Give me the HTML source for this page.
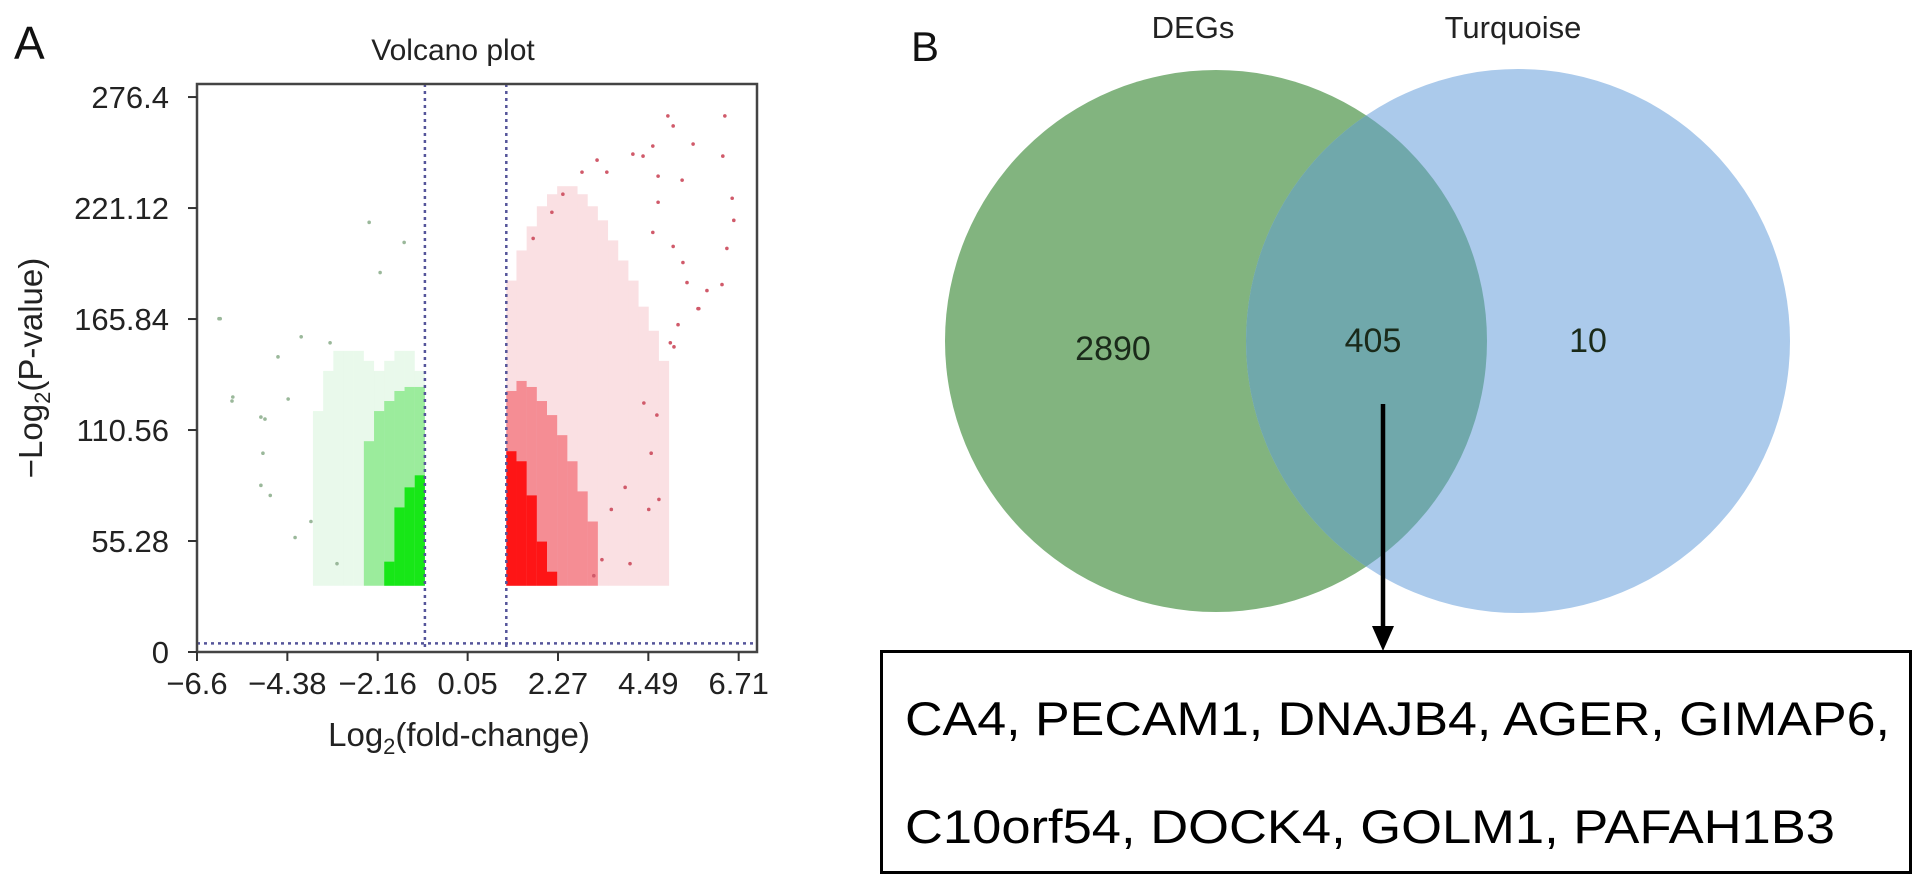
<!DOCTYPE html>
<html><head><meta charset="utf-8">
<style>
html,body{margin:0;padding:0;background:#fff;}
svg{display:block;font-family:"Liberation Sans",Arial,sans-serif;}
</style></head>
<body>
<svg id="root" width="1913" height="885" viewBox="0 0 1913 885">
  <rect x="0" y="0" width="1913" height="885" fill="#fff"/>
  <text x="14" y="59" font-size="46" fill="#111">A</text>
  <text x="453" y="60" font-size="30" fill="#222" text-anchor="middle">Volcano plot</text>
  <g id="volcano"></g>
  <text transform="translate(42,368) rotate(-90)" font-size="33" fill="#222" text-anchor="middle">−Log<tspan font-size="22" dy="8">2</tspan><tspan dy="-8">(P-value)</tspan></text>
  <text x="459" y="746" font-size="33" fill="#222" text-anchor="middle">Log<tspan font-size="22" dy="8">2</tspan><tspan dy="-8">(fold-change)</tspan></text>

  <text x="911" y="61" font-size="42" fill="#111">B</text>
  <g id="venn"></g>
</svg>
<script>
// ---------- Volcano data ----------
const xTickLabels = ["-6.6","-4.38","-2.16","0.05","2.27","4.49","6.71"];
const xTickValues = [-6.6,-4.38,-2.16,0.05,2.27,4.49,6.71];
const yTickLabels = ["0","55.28","110.56","165.84","221.12","276.4"];
const yTickValues = [0,55.28,110.56,165.84,221.12,276.4];
const fcThresholds = [-1, 1];
const pThreshold = 4.32;
const densityFloor = 33;
const binWidth = 0.25;
// green (down-regulated) density bins
const greenBinStart = [-3.75,-3.5,-3.25,-3.0,-2.75,-2.5,-2.25,-2.0,-1.75,-1.5,-1.25];
const greenHaloTop  = [120,140,150,150,150,145,140,145,150,150,140];
const greenMidTop   = [0,0,0,0,0,105,120,125,130,132,132];
const greenCoreTop  = [0,0,0,0,0,0,0,45,72,82,88];
// red (up-regulated) density bins
const redBinStart = [1.0,1.25,1.5,1.75,2.0,2.25,2.5,2.75,3.0,3.25,3.5,3.75,4.0,4.25,4.5,4.75];
const redHaloTop  = [185,200,212,222,228,232,232,228,222,215,205,195,185,172,160,145];
const redMidTop   = [130,135,132,125,118,108,95,80,65,0,0,0,0,0,0,0];
const redCoreTop  = [100,95,78,55,40,0,0,0,0,0,0,0,0,0,0,0];
// individual outlier points
const redPtX = [4.97,6.37,5.1,5.59,6.32,4.6,4.11,4.36,3.23,2.86,3.47,4.73,5.32,6.55,6.59,6.42,6.3,5.44,5.93,5.71,5.22,5.03,2.39,2.12,1.66,4.73,4.6,5.1,5.34,5.73,5.12,4.56,3.92,4.75,4.5,3.35,4.04,3.15,3.58,4.38,4.7];
const redPtY = [267,267,262,253,247,252,248,247,245,239,239,237,235,226,215,201,183,184,180,171,163,154,228,219,206,224,209,202,194,171,152,99,82,76,71,46,44,38,71,124,118];
const greenPtX = [-6.06,-5.74,-4.93,-4.98,-5.03,-4.19,-4.61,-4.8,-3.8,-4.36,-3.33,-3.16,-4.04,-6.03,-2.37,-1.51,-2.1,-5.72,-5.03];
const greenPtY = [166,125,116,99,83,57,147,78,65,126,154,44,157,166,214,204,189,127,117];

// ---------- Volcano scales ----------
const PL=197, PR=757, PT=84, PB=652;
const xMin=-6.6, xMax=7.16, yMin=0, yMax=282.9;
function X(v){return PL+(v-xMin)/(xMax-xMin)*(PR-PL);}
function Y(v){return PB-(v-yMin)/(yMax-yMin)*(PB-PT);}
const NS="http://www.w3.org/2000/svg";
const vg=document.getElementById('volcano');
function mk(tag,attrs,parent){const e=document.createElementNS(NS,tag);for(const k in attrs)e.setAttribute(k,attrs[k]);(parent||vg).appendChild(e);return e;}

function bands(starts,tops,fill,name){
  for(let i=0;i<starts.length;i++){
    if(!tops[i])continue;
    const r=mk('rect',{x:X(starts[i]),y:Y(tops[i]),width:X(starts[i]+binWidth)-X(starts[i]),height:Y(densityFloor)-Y(tops[i]),fill:fill});
    
    
  }
}
bands(greenBinStart,greenHaloTop,'rgba(120,215,130,0.16)','green-density-halo');
bands(greenBinStart,greenMidTop,'rgba(60,220,60,0.45)','green-density-mid');
bands(greenBinStart,greenCoreTop,'rgba(0,230,0,0.85)','green-density-core');
bands(redBinStart,redHaloTop,'rgba(225,70,90,0.17)','red-density-halo');
bands(redBinStart,redMidTop,'rgba(240,40,50,0.45)','red-density-mid');
bands(redBinStart,redCoreTop,'rgba(255,0,0,0.85)','red-density-core');

for(let i=0;i<redPtX.length;i++){
  const c=mk('circle',{cx:X(redPtX[i]),cy:Y(redPtY[i]),r:1.8,fill:'#d05a6a'});
  
  
}
for(let i=0;i<greenPtX.length;i++){
  const c=mk('circle',{cx:X(greenPtX[i]),cy:Y(greenPtY[i]),r:1.8,fill:'#9ab89a'});
  
  
}
// threshold lines
for(const t of fcThresholds){
  const l=mk('line',{x1:X(t),x2:X(t),y1:PT,y2:PB,stroke:'#55559a','stroke-width':2.5,'stroke-dasharray':'3,4'});
  
  
}
const hl=mk('line',{x1:PL,x2:PR,y1:Y(pThreshold),y2:Y(pThreshold),stroke:'#55559a','stroke-width':2.5,'stroke-dasharray':'3,4'});


// frame
const fr=mk('rect',{x:PL,y:PT,width:PR-PL,height:PB-PT,fill:'none',stroke:'#444','stroke-width':2.5});


// ticks
for(let i=0;i<xTickValues.length;i++){
  const x=X(xTickValues[i]);
  const t=mk('line',{x1:x,x2:x,y1:PB,y2:PB+9,stroke:'#333','stroke-width':2});
  
  
  const lb=mk('text',{x:x,y:694,'font-size':31,'text-anchor':'middle',fill:'#222'});
  lb.textContent=xTickLabels[i].replace('-','−');
  
  
}
for(let i=0;i<yTickValues.length;i++){
  const y=Y(yTickValues[i]);
  const t=mk('line',{x1:PL-9,x2:PL,y1:y,y2:y,stroke:'#333','stroke-width':2});
  
  
  const lb=mk('text',{x:169,y:y+11,'font-size':31,'text-anchor':'end',fill:'#222'});
  lb.textContent=yTickLabels[i];
  
  
}

// ---------- Venn ----------
const setNames = ["DEGs","Turquoise"];
const setCounts = [2890, 405, 10];
const vn=document.getElementById('venn');
function vm(tag,attrs){return mk(tag,attrs,vn);}
const defs=vm('defs',{});
const cp=mk('clipPath',{id:'clipG'},defs);
mk('circle',{cx:1216,cy:341,r:271},cp);
const g1=vm('circle',{cx:1216,cy:341,r:271,fill:'#82b47f'});


const b1=vm('circle',{cx:1518,cy:341,r:272,fill:'#abcaeb'});


const ov=vm('circle',{cx:1518,cy:341,r:272,fill:'#70a8ab','clip-path':'url(#clipG)'});


const n1=vm('text',{x:1193,y:38,'font-size':31,'text-anchor':'middle',fill:'#222'});n1.textContent=setNames[0];


const n2=vm('text',{x:1513,y:38,'font-size':31,'text-anchor':'middle',fill:'#222'});n2.textContent=setNames[1];


const cPos=[[1113,360],[1373,352],[1588,352]];
const cNames=['degs-only-count','overlap-count','turquoise-only-count'];
for(let i=0;i<3;i++){
  const t=vm('text',{x:cPos[i][0],y:cPos[i][1],'font-size':34,'text-anchor':'middle',fill:'#1a2a1a'});
  t.textContent=String(setCounts[i]);
  
  
}
const al=vm('line',{x1:1383,y1:404,x2:1383,y2:632,stroke:'#000','stroke-width':4.5});


const ah=vm('polygon',{points:'1372,626 1394,626 1383,651',fill:'#000'});


const bx=vm('rect',{x:881.5,y:651.5,width:1029,height:221,fill:'#fff',stroke:'#000','stroke-width':3});


const l1=vm('text',{x:905,y:735,'font-size':47,fill:'#000',textLength:985,lengthAdjust:'spacingAndGlyphs'});
l1.textContent='CA4, PECAM1, DNAJB4, AGER, GIMAP6,';


const l2=vm('text',{x:905,y:843,'font-size':47,fill:'#000',textLength:930,lengthAdjust:'spacingAndGlyphs'});
l2.textContent='C10orf54, DOCK4, GOLM1, PAFAH1B3';


</script>
</body></html>
